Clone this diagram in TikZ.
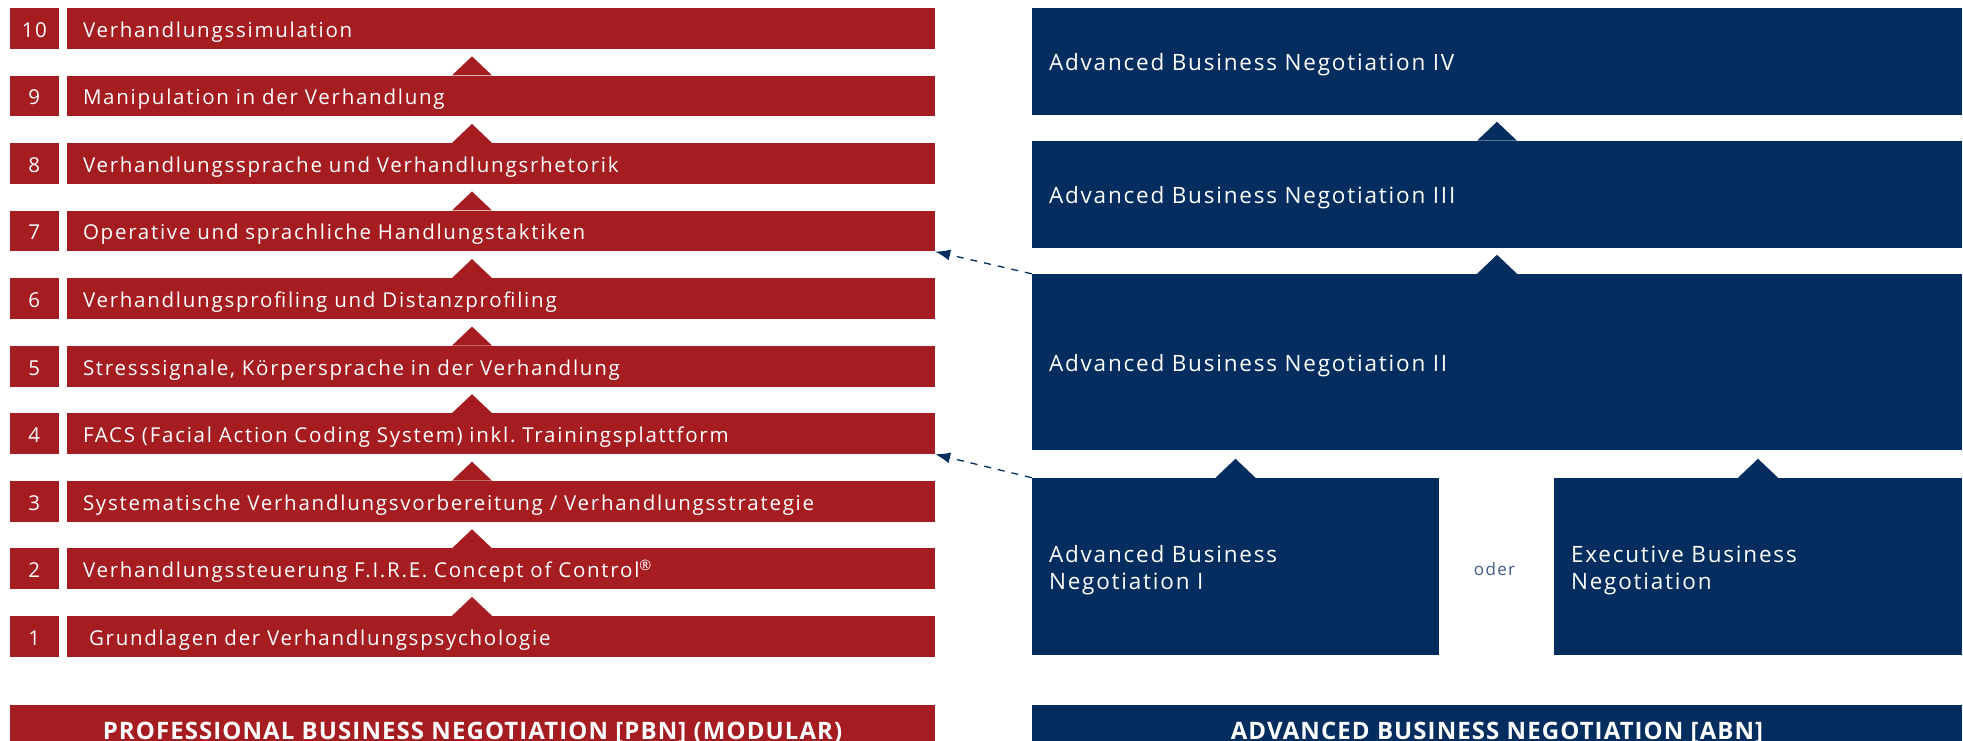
\documentclass[tikz,border=0pt]{standalone}
\usepackage{fontspec}
\setmainfont{Open Sans}
\newfontfamily\pbnface[LetterSpace=8.5]{Open Sans}
\newfontfamily\abnface[LetterSpace=8]{Open Sans}
\newfontfamily\footface[LetterSpace=4.5]{Open Sans}
\usepackage{tikz}
\usetikzlibrary{positioning, arrows.meta}
\definecolor{pbnred}{HTML}{A51C21}
\definecolor{abnblue}{HTML}{022D5E}
\definecolor{odertext}{HTML}{3F5B85}
\frenchspacing
\tikzset{
    pbn font/.style = {font=\pbnface\fontsize{20.5}{23}\selectfont},
    abn font/.style = {font=\abnface\fontsize{22.5}{27}\selectfont},
    pbnnum/.style = {pbn font, fill=pbnred, text=white, inner sep=0pt,
        minimum width=48.7pt, minimum height=40.7pt, text height=20pt, text depth=2.1pt},
    pbnrow/.style = {pbnnum, minimum width=868pt, text width=836pt, inner xsep=16pt, align=left},
    abnbox/.style = {abn font, fill=abnblue, text=white, inner ysep=0pt, inner xsep=17pt,
        text height=21pt, text depth=2.2pt, align=left},
    abnpair/.style = {abnbox, minimum height=176.7pt, text depth=29.2pt},
    footbox/.style = {font=\footface\fontsize{24}{26}\bfseries, text=white, inner sep=0pt,
        minimum height=50pt, text height=18pt, text depth=0pt},
    pbnlink/.style = {draw=abnblue, line width=1.3pt, dash pattern=on 7pt off 7pt,
        -{Latex[length=15pt,width=11pt]}},
}
% small upward notch sitting on a box edge
\newcommand{\uptip}[2]{\fill[#1] (#2) ++(-20pt,0) -- ++(20pt,19pt) -- ++(20pt,-19pt) -- cycle;}

\begin{document}
\begin{tikzpicture}[x=1pt, y=1pt, every node/.style=on grid, node distance=67.56pt]
    \path[use as bounding box, clip] (0,0) rectangle (1963,-741);

    % PBN modules
    \node[pbnnum] (n10) at (34.35,-28.35) {10};
    \node[pbnrow] (r10) [right=466.65pt of n10] {Verhandlungssimulation};
    \node[pbnnum] (n9) [below=of n10] {9};
    \node[pbnrow] (r9) [right=466.65pt of n9] {Manipulation in der Verhandlung};
    \node[pbnnum] (n8) [below=of n9] {8};
    \node[pbnrow] (r8) [right=466.65pt of n8] {Verhandlungssprache und Verhandlungsrhetorik};
    \node[pbnnum] (n7) [below=of n8] {7};
    \node[pbnrow] (r7) [right=466.65pt of n7] {Operative und sprachliche Handlungstaktiken};
    \node[pbnnum] (n6) [below=of n7] {6};
    \node[pbnrow] (r6) [right=466.65pt of n6] {Verhandlungsprofiling und Distanzprofiling};
    \node[pbnnum] (n5) [below=of n6] {5};
    \node[pbnrow] (r5) [right=466.65pt of n5] {Stresssignale, Körpersprache in der Verhandlung};
    \node[pbnnum] (n4) [below=of n5] {4};
    \node[pbnrow] (r4) [right=466.65pt of n4] {FACS (Facial Action Coding System) inkl. Trainingsplattform};
    \node[pbnnum] (n3) [below=of n4] {3};
    \node[pbnrow] (r3) [right=466.65pt of n3] {Systematische Verhandlungsvorbereitung / Verhandlungsstrategie};
    \node[pbnnum] (n2) [below=of n3] {2};
    \node[pbnrow] (r2) [right=466.65pt of n2] {Verhandlungssteuerung F.I.R.E. Concept of Control\textsuperscript{\textregistered}};
    \node[pbnnum] (n1) [below=of n2] {1};
    \node[pbnrow] (r1) [right=466.65pt of n1] {\hspace*{6pt}Grundlagen der Verhandlungspsychologie};

    \uptip{pbnred}{[xshift=-29pt]r9.north}
    \uptip{pbnred}{[xshift=-29pt]r8.north}
    \uptip{pbnred}{[xshift=-29pt]r7.north}
    \uptip{pbnred}{[xshift=-29pt]r6.north}
    \uptip{pbnred}{[xshift=-29pt]r5.north}
    \uptip{pbnred}{[xshift=-29pt]r4.north}
    \uptip{pbnred}{[xshift=-29pt]r3.north}
    \uptip{pbnred}{[xshift=-29pt]r2.north}
    \uptip{pbnred}{[xshift=-29pt]r1.north}

    % ABN levels
    \node[abnbox, minimum width=930pt, minimum height=106.7pt, text width=896pt] (abn4) at (1497,-61.35) {Advanced Business Negotiation IV};
    \node[abnbox, minimum width=930pt, minimum height=106.7pt, text width=896pt] (abn3) [below=132.95pt of abn4] {Advanced Business Negotiation III};
    \node[abnbox, minimum width=930pt, minimum height=176pt, text width=896pt] (abn2) [below=167.7pt of abn3] {Advanced Business Negotiation II};
    \node[abnpair, minimum width=407pt, text width=373pt] (abn1) [below left=204.3pt and 261.5pt of abn2] {Advanced Business\\Negotiation I};
    \node[abnpair, minimum width=408pt, text width=374pt] (ebn) [right=522.5pt of abn1] {Executive Business\\Negotiation};
    \node[font=\abnface\fontsize{17}{20}\selectfont, text=odertext] (oder) [right=259pt of abn1, yshift=-2.7pt] {oder};

    \uptip{abnblue}{abn3.north}
    \uptip{abnblue}{abn2.north}
    \uptip{abnblue}{abn1.north}
    \uptip{abnblue}{ebn.north}

    \draw[pbnlink] (abn2.north west) -- (r7.south east);
    \draw[pbnlink] (abn1.north west) -- (r4.south east);

    % footers
    \node[footbox, fill=pbnred, minimum width=925pt] (pbn) at (472.5,-730) {PROFESSIONAL BUSINESS NEGOTIATION [PBN] (MODULAR)};
    \node[footbox, fill=abnblue, minimum width=930pt] (abn) at (1497,-730) {ADVANCED BUSINESS NEGOTIATION [ABN]};
\end{tikzpicture}
\end{document}
